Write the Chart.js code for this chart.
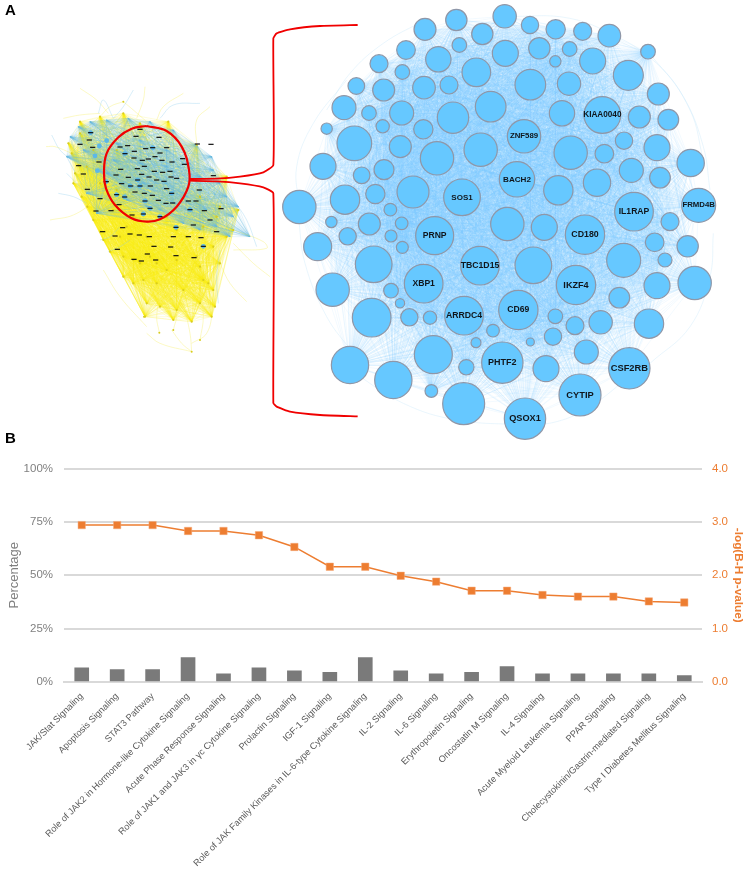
<!DOCTYPE html>
<html>
<head>
<meta charset="utf-8">
<script src="https://cdn.jsdelivr.net/npm/chart.js@4"></script>
<style>
  body { margin: 0; background: #fff; width: 748px; height: 876px; position: relative; overflow: hidden; }
  canvas { position: absolute; }
  #hairball-chart { left: 0; top: 0; }
  #network-chart { left: 270px; top: 0; }
  #pathway-chart { left: 0; top: 440px; }
  .panel { position: absolute; left: 5px; font: bold 15px "Liberation Sans", Arial, sans-serif; color: #000; }
</style>
</head>
<body>
<canvas id="hairball-chart" width="360" height="440"></canvas>
<canvas id="network-chart" width="478" height="440"></canvas>
<canvas id="pathway-chart" width="748" height="436"></canvas>
<div class="panel" style="top:1px">A</div>
<div class="panel" style="top:429px">B</div>
<script>
// ===== Panel B data =====
const pathways = [
    'JAK/Stat Signaling', 'Apoptosis Signaling', 'STAT3 Pathway',
    'Role of JAK2 in Hormone-like Cytokine Signaling', 'Acute Phase Response Signaling',
    'Role of JAK1 and JAK3 in γc Cytokine Signaling', 'Prolactin Signaling', 'IGF-1 Signaling',
    'Role of JAK Family Kinases in IL-6-type Cytokine Signaling', 'IL-2 Signaling', 'IL-6 Signaling',
    'Erythropoietin Signaling', 'Oncostatin M Signaling', 'IL-4 Signaling',
    'Acute Myeloid Leukemia Signaling', 'PPAR Signaling',
    'Cholecystokinin/Gastrin-mediated Signaling', 'Type I Diabetes Mellitus Signaling'
];
const percentage = [6.6, 5.8, 5.8, 11.4, 3.8, 6.6, 5.2, 4.5, 11.4, 5.2, 3.8, 4.5, 7.2, 3.8, 3.8, 3.8, 3.8, 3.0];
const logP = [2.94, 2.94, 2.94, 2.83, 2.83, 2.75, 2.53, 2.16, 2.16, 1.99, 1.88, 1.71, 1.71, 1.63, 1.60, 1.60, 1.51, 1.49];

// ===== Panel A, enlarged network (layout units) =====
const nodeName = ['KIAA0040', 'ZNF589', 'BACH2', 'SOS1', 'FRMD4B', 'IL1RAP', 'CD180', 'PRNP', 'TBC1D15', 'XBP1',
    'IKZF4', 'ARRDC4', 'CD69', 'PHTF2', 'CSF2RB', 'CYTIP', 'QSOX1'];
const nodeFontSize = [8.2, 7.8, 8.1, 8, 7.8, 8.6, 8.8, 8.6, 8.7, 8.6, 9.1, 8.7, 8.6, 9, 9.3, 9.3, 9.2];
const nodeX = [997, 762, 741, 576, 1286, 1092, 945, 494, 630, 461, 918, 582, 745, 697, 1078, 930, 765,
    465, 559, 704, 780, 857, 938, 1018, 637, 568, 1134, 408, 505, 706, 808, 899, 856, 968, 327, 397, 619, 1075,
    259, 341, 462, 537, 781, 897, 1165, 222, 297, 395, 662, 549, 876, 1108, 1195, 170, 338, 460, 253, 391, 632,
    902, 1062, 1003, 1161, 501, 159, 342, 275, 1084, 1170, 1262, 865, 981, 429, 225, 316, 88, 361,
    184, 298, 395, 712, 823, 1200, 143, 233, 363, 397, 1154, 1253, 311, 790, 1061, 1185, 188, 1161, 1274, 363,
    1048, 390, 305, 418, 480, 856, 915, 992, 1137, 669, 849, 618, 781, 490, 949, 240, 589, 828, 370, 484, 581];
const nodeY = [345, 409, 538, 592, 616, 635, 704, 707, 797, 851, 855, 947, 930, 1088, 1105, 1185, 1256,
    88, 60, 49, 75, 88, 94, 107, 102, 135, 155, 150, 178, 160, 145, 147, 184, 183, 191, 216, 217, 226,
    258, 270, 263, 255, 254, 251, 282, 323, 339, 339, 320, 353, 340, 351, 359, 386, 379, 388, 430, 440, 449,
    458, 422, 461, 443, 475, 499, 509, 526, 511, 533, 489, 571, 548, 576, 599, 582, 621, 629,
    666, 672, 670, 672, 682, 665, 740, 709, 708, 742, 727, 739, 793, 796, 781, 780, 869, 857, 849, 872,
    893, 910, 953, 952, 953, 949, 977, 967, 971, 992, 1010, 1028, 1026, 1064, 1056, 1095, 1102, 1106, 1140, 1173, 1211];
const nodeSize = [55, 50, 53, 55, 51, 58, 59, 57, 58, 58, 59, 58, 59, 62, 62, 63, 62,
    33, 32, 35, 26, 29, 27, 34, 32, 22, 22, 28, 38, 39, 32, 22, 17, 39, 27, 22, 43, 45,
    25, 33, 34, 27, 46, 35, 33, 36, 22, 36, 46, 47, 38, 33, 31, 17, 20, 29, 52, 33, 50,
    50, 26, 28, 39, 50, 39, 30, 25, 36, 31, 41, 44, 41, 48, 44, 29, 50, 19,
    17, 33, 19, 50, 39, 27, 42, 26, 18, 18, 28, 32, 55, 55, 51, 21, 50, 39, 50, 22,
    31, 14, 58, 26, 20, 22, 27, 35, 44, 19, 26, 15, 12, 57, 36, 56, 23, 39, 56, 19, 63];
// arcs that swing outside the node cloud
const networkArcs = [
    [[1134, 155], [1240, 290], [1300, 440], [1320, 570]],
    [[1018, 107], [1160, 190], [1260, 330], [1300, 480]],
    [[704, 49], [900, 55], [1060, 120], [1140, 170]],
    [[1330, 700], [1320, 830], [1260, 980], [1140, 1090]],
    [[240, 1110], [400, 1210], [560, 1260], [765, 1275]],
    [[1078, 1130], [960, 1220], [860, 1265], [740, 1278]],
    [[88, 621], [80, 500], [130, 370], [230, 240]],
    [[85, 650], [105, 790], [170, 950], [250, 1060]],
    [[465, 60], [340, 130], [240, 220], [170, 330]]
];

// ===== Panel A, full network overview =====
const yellowNodeX = [240, 215, 235, 220, 262, 300, 330, 400, 440, 480, 435, 520, 575, 635, 645, 625, 660, 700, 715, 680, 590, 505, 420, 300, 240, 340, 400, 500, 560, 450, 550, 600, 500, 430, 360, 650, 300, 280, 350,
    205, 225, 245, 280, 310, 370, 420, 470, 530, 590, 640, 680, 610, 530, 440, 380, 470, 530, 600, 610, 350, 260, 600, 660, 370, 640, 400, 370];
const yellowNodeY = [250, 310, 345, 400, 470, 545, 605, 630, 760, 770, 800, 810, 815, 800, 770, 700, 640, 540, 480, 380, 285, 215, 220, 200, 215, 480, 500, 500, 560, 620, 720, 650, 660, 690, 560, 500, 400, 300, 300,
    280, 370, 440, 510, 570, 620, 640, 640, 630, 620, 590, 560, 530, 540, 560, 530, 700, 780, 760, 690, 420, 350, 440, 470, 680, 720, 700, 190];
const yellowDotX = [478, 575, 370, 432, 520, 600];
const yellowDotY = [848, 905, 155, 800, 840, 870];
const blueNodeX = [320, 385, 450, 520, 590, 635, 660, 715, 750, 690, 620, 560, 600, 500, 420, 350, 320, 290, 200, 210, 500, 430, 380, 480, 550,
    235, 270, 340, 420, 500, 570, 640, 680, 650, 600, 360, 440, 520, 700, 250, 260, 290];
const blueNodeY = [210, 205, 215, 240, 285, 320, 400, 470, 560, 560, 480, 440, 380, 300, 270, 280, 370, 360, 320, 260, 400, 400, 450, 480, 520,
    230, 215, 330, 340, 350, 340, 360, 440, 530, 540, 400, 470, 460, 500, 300, 430, 490];
const labelMarkX = [420, 408, 477, 272, 268, 278, 240, 383, 360, 437, 458, 403, 480, 500, 375, 465, 402, 445, 427, 486, 516, 548, 297, 236, 433, 553, 362, 412, 463, 488, 510, 348, 425, 385, 447, 470, 492, 413, 513, 530, 319, 365, 392, 420, 451, 500, 405, 433, 457, 515, 350, 374, 435, 475, 518, 565, 588, 357, 450, 498, 430, 480, 396, 570, 613, 598, 640, 528, 368, 390, 448, 520, 345, 308, 418, 462, 512, 565, 603, 610, 352, 442, 402, 424, 467, 528, 582, 650, 663, 630, 580, 262, 300, 250, 288, 333, 633, 592];
const labelMarkY = [238, 259, 262, 248, 270, 292, 283, 287, 291, 296, 293, 304, 309, 293, 311, 320, 324, 327, 331, 331, 336, 326, 336, 347, 349, 343, 358, 356, 364, 367, 364, 375, 373, 382, 381, 390, 394, 390, 381, 385, 395, 401, 408, 408, 408, 416, 426, 430, 436, 430, 434, 441, 453, 451, 459, 453, 453, 464, 475, 460, 492, 500, 495, 479, 482, 420, 377, 532, 533, 552, 560, 560, 558, 545, 555, 589, 591, 560, 563, 589, 598, 612, 628, 633, 630, 617, 623, 545, 476, 510, 525, 418, 446, 372, 483, 482, 283, 282];
const blueDotX = [350, 374, 430, 450, 480, 528, 570, 515, 285, 292, 318, 272, 320, 298, 420, 390, 435, 610, 375, 458, 413];
const blueDotY = [434, 441, 492, 475, 500, 532, 479, 430, 318, 362, 395, 248, 272, 288, 408, 408, 453, 589, 311, 293, 390];
const yellowWisps = [
    [[240, 115], [290, 150], [325, 190]], [[190, 205], [240, 195], [300, 190]],
    [[150, 510], [220, 495], [290, 450]], [[138, 290], [165, 290], [215, 310]],
    [[440, 850], [480, 880], [575, 905]], [[700, 540], [790, 575], [800, 595], [700, 600]],
    [[810, 680], [760, 640], [700, 580]], [[740, 755], [690, 700], [660, 640]],
    [[630, 170], [590, 210], [590, 285]], [[550, 130], [490, 170], [470, 210]],
    [[435, 110], [430, 150], [410, 205]], [[310, 660], [360, 740], [440, 830]],
    [[515, 840], [545, 880], [575, 905]], [[575, 880], [620, 850], [640, 775]],
    [[478, 848], [470, 800], [480, 740]], [[575, 905], [570, 850], [550, 760]],
    [[370, 155], [400, 180], [440, 215]], [[370, 155], [330, 170], [300, 200]],
    [[520, 840], [530, 790], [510, 720]], [[600, 870], [610, 800], [600, 720]]
];
const blueWisps = [
    [[400, 120], [370, 170], [340, 205]], [[155, 255], [180, 300], [215, 330]],
    [[175, 430], [220, 440], [260, 460]], [[770, 590], [740, 510], [700, 450]],
    [[655, 760], [650, 680], [660, 600]], [[600, 160], [520, 165], [480, 205]],
    [[295, 190], [310, 150], [340, 205]], [[200, 370], [230, 400], [250, 420]],
    [[300, 570], [330, 560], [360, 530]], [[325, 605], [360, 590], [390, 570]]
];
// brace and ring, in the same overview units
const braceX = [1073, 960, 870, 830, 820, 820, 790, 720, 650, 570, 570, 650, 720, 790, 820, 820, 830, 870, 960, 1073];
const braceY = [-75, -72, -62, -50, -35, 345, 367, 380, 386, 387, 392, 394, 400, 412, 430, 1059, 1070, 1085, 1095, 1099];
const ringX = [440, 500, 545, 567, 565, 530, 480, 440, 395, 345, 318, 312, 320, 355, 395, 440];
const ringY = [228, 243, 290, 360, 410, 470, 508, 515, 505, 465, 415, 370, 310, 262, 236, 228];

// ===== Helpers =====
const toPoints = (xs, ys) => xs.map((x, i) => ({ x, y: ys[i] }));

// one dataset per hub node, so overlapping edges build up like the original hairball
function edgeDatasets(xs, ys, color, width) {
    return xs.slice(0, -1).map((x, i) => {
        const data = [];
        for (let j = i + 1; j < xs.length; j++) {
            data.push({ x, y: ys[i] }, { x: xs[j], y: ys[j] }, { x: xs[j], y: null });
        }
        return { type: 'line', data, borderColor: color, borderWidth: width, pointRadius: 0, tension: 0, order: 5 };
    });
}

const arcDataset = (arc, color, width) => ({
    type: 'line',
    data: arc.map(p => ({ x: p[0], y: p[1] })),
    borderColor: color, borderWidth: width, pointRadius: 0, tension: 0.4, order: 4
});

const hiddenAxis = (min, max, reverse) => ({ type: 'linear', display: false, min, max, reverse });
const staticOptions = {
    responsive: false,
    animation: false,
    events: [],
    layout: { padding: 0, autoPadding: false },
    plugins: { legend: { display: false }, tooltip: { enabled: false } }
};

// ===== Overview =====
new Chart(document.getElementById('hairball-chart'), {
    type: 'scatter',
    data: {
        datasets: [
            { type: 'line', data: toPoints(ringX, ringY), borderColor: '#f00000', borderWidth: 2.2, pointRadius: 0, tension: 0.4, order: 0 },
            { type: 'line', data: toPoints(braceX, braceY), borderColor: '#f00000', borderWidth: 1.8, pointRadius: 0, tension: 0.15, order: 0 },
            { type: 'line', showLine: false, data: toPoints(labelMarkX, labelMarkY), pointStyle: 'line', pointRadius: 2.6, pointBorderWidth: 1.2, pointBorderColor: '#111', order: 1 },
            { type: 'line', showLine: false, data: toPoints(blueDotX, blueDotY), pointRadius: 2.4, pointBorderWidth: 0, pointBackgroundColor: '#5cb8e8', order: 2 },
            { type: 'line', showLine: false, data: toPoints(yellowNodeX, yellowNodeY), pointRadius: 1.1, pointBorderWidth: 0, pointBackgroundColor: '#d8cc20', order: 2 },
            { type: 'line', showLine: false, data: toPoints(yellowDotX, yellowDotY), pointRadius: 1, pointBorderWidth: 0, pointBackgroundColor: '#d8cc20', order: 2 },
            ...blueWisps.map(w => arcDataset(w, 'rgba(130,200,235,0.45)', 0.7)),
            ...yellowWisps.map(w => arcDataset(w, 'rgba(245,238,90,0.5)', 0.7)),
            ...edgeDatasets(blueNodeX, blueNodeY, 'rgba(100,185,225,0.2)', 0.8),
            ...edgeDatasets(yellowNodeX, yellowNodeY, 'rgba(246,236,20,0.2)', 0.8)
        ]
    },
    options: {
        ...staticOptions,
        scales: { x: hiddenAxis(0, 1080, false), y: hiddenAxis(-150, 1170, true) }
    }
});

// ===== Enlarged network =====
const nodeLabels = {
    id: 'nodeLabels',
    afterDatasetsDraw(chart) {
        const { ctx, scales } = chart;
        ctx.save();
        ctx.fillStyle = '#10161c';
        ctx.textAlign = 'center';
        ctx.textBaseline = 'middle';
        nodeName.forEach((name, i) => {
            ctx.font = `bold ${nodeFontSize[i]}px "Liberation Sans", Arial, sans-serif`;
            ctx.fillText(name, scales.x.getPixelForValue(nodeX[i]), scales.y.getPixelForValue(nodeY[i]));
        });
        ctx.restore();
    }
};

new Chart(document.getElementById('network-chart'), {
    type: 'bubble',
    data: {
        datasets: [
            {
                data: nodeX.map((x, i) => ({ x, y: nodeY[i], r: nodeSize[i] / 3 })),
                backgroundColor: '#66c8ff',
                borderColor: '#8f97a8',
                borderWidth: 1.2,
                clip: false,
                order: 0
            },
            ...networkArcs.map(a => arcDataset(a, 'rgba(190,228,250,0.55)', 0.6)),
            ...edgeDatasets(nodeX, nodeY, 'rgba(125,205,250,0.17)', 0.55)
        ]
    },
    options: {
        ...staticOptions,
        scales: { x: hiddenAxis(0, 1434, false), y: hiddenAxis(0, 1320, true) }
    },
    plugins: [nodeLabels]
});

// ===== Panel B =====
const grey = '#7f7f7f';
const orange = '#ed7d31';
new Chart(document.getElementById('pathway-chart'), {
    data: {
        labels: pathways,
        datasets: [
            {
                type: 'line', data: logP, yAxisID: 'yRight', borderColor: orange, borderWidth: 1.5,
                pointStyle: 'rect', pointRadius: 5.2, pointBackgroundColor: orange, pointBorderColor: '#f4a878',
                pointBorderWidth: 0.5, tension: 0, order: 0
            },
            { type: 'bar', data: percentage, yAxisID: 'yLeft', backgroundColor: '#7a7a7a', barThickness: 14, order: 1 }
        ]
    },
    options: {
        ...staticOptions,
        layout: { padding: { top: 28.5 }, autoPadding: false },
        scales: {
            x: {
                grid: { display: false, drawTicks: false },
                border: { color: '#d9d9d9', width: 2 },
                afterFit: s => { s.height = 194; },
                ticks: {
                    autoSkip: false, minRotation: 45, maxRotation: 45, padding: 9,
                    color: '#595959', font: { family: '"Liberation Sans", Arial, sans-serif', size: 9.2 }
                }
            },
            yLeft: {
                position: 'left', min: 0, max: 100,
                afterFit: s => { s.width = 64; },
                grid: { color: '#d9d9d9', lineWidth: 2, drawTicks: false },
                border: { display: false },
                ticks: {
                    stepSize: 25, padding: 11, color: '#808080', callback: v => v + '%',
                    font: { family: '"Liberation Sans", Arial, sans-serif', size: 11.5 }
                },
                title: {
                    display: true, text: 'Percentage', color: grey, padding: { top: 7, bottom: 0 },
                    font: { family: '"Liberation Sans", Arial, sans-serif', size: 13 }
                }
            },
            yRight: {
                position: 'right', min: 0, max: 4,
                afterFit: s => { s.width = 46; },
                grid: { display: false, drawTicks: false },
                border: { display: false },
                ticks: {
                    stepSize: 1, padding: 10, color: orange, callback: v => v.toFixed(1),
                    font: { family: '"Liberation Sans", Arial, sans-serif', size: 11.5 }
                },
                title: {
                    display: true, text: '-log(B-H p-value)', color: orange, padding: { top: 3, bottom: 0 },
                    font: { family: '"Liberation Sans", Arial, sans-serif', size: 11.8, weight: 'bold' }
                }
            }
        }
    }
});
</script>
</body>
</html>
